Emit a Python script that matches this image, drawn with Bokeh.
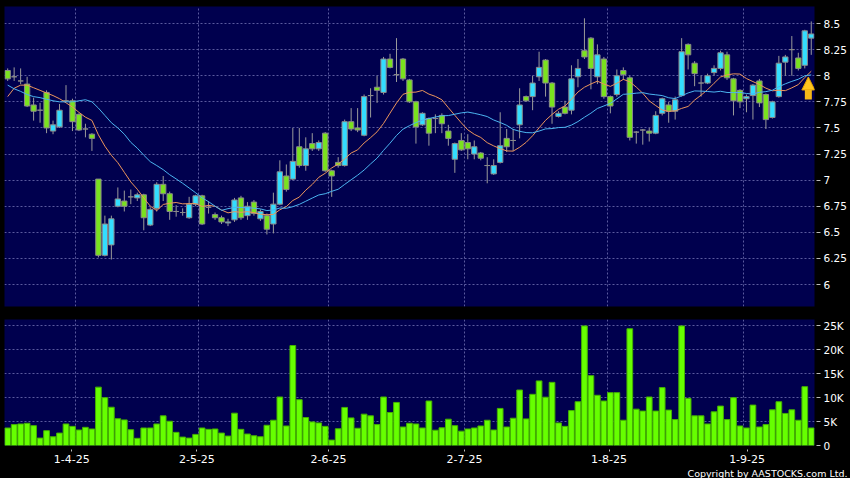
from bokeh.plotting import figure
from bokeh.layouts import column
from bokeh.models import (ColumnDataSource, FixedTicker, Range1d, Arrow, NormalHead,
                          Title, GlobalInlineStyleSheet)
from bokeh.embed import file_html
from bokeh.resources import INLINE

# ---------------- data ----------------
opens = [8.05, 7.99, 7.95, 7.92, 7.72, 7.67, 7.84, 7.47, 7.51, 7.76,
         7.76, 7.63, 7.49, 7.44, 7.01, 6.28, 6.38, 6.75, 6.80, 6.84,
         6.83, 6.86, 6.57, 6.73, 6.96, 6.87, 6.70, 6.69, 6.64, 6.77,
         6.85, 6.74, 6.67, 6.64, 6.59, 6.62, 6.83, 6.66, 6.79, 6.63,
         6.66, 6.58, 6.77, 7.04, 7.01, 7.32, 7.14, 7.35, 7.30, 7.45,
         7.09, 7.17, 7.14, 7.56, 7.50, 7.43, 7.81, 7.89, 7.84, 8.16,
         8.01, 8.16, 7.96, 7.75, 7.53, 7.59, 7.59, 7.62, 7.47, 7.20,
         7.38, 7.36, 7.25, 7.26, 7.14, 7.06, 7.17, 7.40, 7.38, 7.53,
         7.80, 7.80, 7.99, 8.15, 7.93, 7.61, 7.70, 7.67, 7.99, 8.24,
         8.36, 7.99, 8.16, 7.80, 7.82, 8.05, 7.98, 7.46, 7.48, 7.47,
         7.45, 7.64, 7.72, 7.66, 7.81, 8.30, 8.12, 7.93, 7.93, 8.03,
         8.07, 8.20, 7.97, 7.86, 7.78, 7.81, 7.95, 7.82, 7.60, 7.80,
         8.13, 8.25, 8.17, 8.10, 8.36]
highs = [8.07, 8.08, 8.07, 7.99, 7.79, 7.74, 7.86, 7.57, 7.73, 7.91,
         7.78, 7.64, 7.54, 7.45, 7.01, 6.66, 6.66, 6.93, 6.90, 6.91,
         6.88, 6.87, 6.74, 6.98, 7.04, 6.89, 6.76, 6.73, 6.84, 6.86,
         6.86, 6.80, 6.69, 6.66, 6.63, 6.83, 6.85, 6.79, 6.81, 6.72,
         6.68, 6.88, 7.19, 7.15, 7.50, 7.50, 7.41, 7.45, 7.38, 7.46,
         7.10, 7.22, 7.58, 7.69, 7.69, 7.82, 7.88, 8.00, 8.18, 8.21,
         8.36, 8.17, 7.97, 7.76, 7.65, 7.60, 7.63, 7.64, 7.53, 7.36,
         7.45, 7.44, 7.38, 7.27, 7.22, 7.20, 7.65, 7.49, 7.49, 7.88,
         7.81, 8.00, 8.23, 8.16, 7.94, 7.66, 7.76, 8.10, 8.16, 8.55,
         8.37, 8.30, 8.18, 7.81, 8.06, 8.08, 8.00, 7.47, 7.49, 7.50,
         7.66, 7.79, 7.75, 7.80, 8.36, 8.31, 8.14, 8.00, 8.02, 8.10,
         8.24, 8.23, 7.98, 7.87, 7.82, 7.92, 7.97, 7.83, 7.76, 8.19,
         8.20, 8.38, 8.22, 8.44, 8.52]
lows = [7.95, 7.95, 7.92, 7.70, 7.57, 7.55, 7.45, 7.44, 7.50, 7.75,
        7.47, 7.47, 7.41, 7.28, 6.26, 6.27, 6.24, 6.74, 6.70, 6.77,
        6.80, 6.52, 6.56, 6.70, 6.80, 6.62, 6.65, 6.66, 6.63, 6.75,
        6.57, 6.68, 6.62, 6.58, 6.56, 6.60, 6.62, 6.62, 6.66, 6.61,
        6.48, 6.49, 6.76, 6.89, 7.00, 7.12, 7.09, 7.28, 7.28, 7.08,
        6.84, 7.12, 7.13, 7.47, 7.46, 7.42, 7.60, 7.74, 7.82, 8.07,
        7.94, 7.95, 7.74, 7.35, 7.52, 7.33, 7.45, 7.45, 7.33, 7.07,
        7.28, 7.20, 7.20, 7.19, 6.97, 7.05, 7.16, 7.27, 7.28, 7.40,
        7.75, 7.67, 7.95, 7.80, 7.54, 7.60, 7.63, 7.63, 7.89, 8.16,
        7.87, 7.92, 7.78, 7.64, 7.80, 7.96, 7.38, 7.35, 7.34, 7.37,
        7.44, 7.62, 7.55, 7.58, 7.80, 8.06, 7.90, 7.80, 7.92, 8.00,
        8.05, 7.96, 7.62, 7.69, 7.65, 7.58, 7.70, 7.49, 7.59, 7.79,
        8.00, 8.00, 8.05, 8.07, 8.20]
closes = [7.97, 7.99, 7.95, 7.71, 7.66, 7.67, 7.50, 7.53, 7.67, 7.76,
          7.56, 7.48, 7.49, 7.40, 6.28, 6.58, 6.63, 6.82, 6.75, 6.84,
          6.86, 6.64, 6.72, 6.96, 6.87, 6.70, 6.70, 6.69, 6.77, 6.85,
          6.58, 6.74, 6.64, 6.60, 6.60, 6.81, 6.64, 6.75, 6.68, 6.70,
          6.53, 6.77, 7.08, 6.91, 7.18, 7.14, 7.30, 7.30, 7.36, 7.09,
          7.04, 7.14, 7.56, 7.49, 7.48, 7.80, 7.81, 7.86, 8.16, 8.08,
          8.01, 7.97, 7.75, 7.51, 7.64, 7.45, 7.59, 7.54, 7.40, 7.35,
          7.29, 7.30, 7.32, 7.21, 7.14, 7.14, 7.33, 7.32, 7.38, 7.72,
          7.76, 7.93, 8.08, 7.93, 7.70, 7.64, 7.64, 7.97, 8.07, 8.18,
          8.07, 8.20, 7.80, 7.71, 8.00, 8.01, 7.41, 7.46, 7.48, 7.45,
          7.62, 7.78, 7.66, 7.77, 8.23, 8.20, 8.02, 7.93, 8.00, 8.07,
          8.22, 7.98, 7.76, 7.75, 7.80, 7.91, 7.74, 7.58, 7.75, 8.12,
          8.18, 8.25, 8.07, 8.43, 8.40]
volumes_k = [3.66, 4.37, 4.5, 4.65, 4.15, 1.55, 3.1, 1.83, 2.6, 4.5,
             4.0, 3.24, 3.8, 3.45, 12.2, 10.0, 8.0, 5.6, 5.35, 3.3,
             1.5, 3.66, 3.66, 4.5, 6.2, 5.07, 2.75, 1.76, 1.55, 2.32,
             3.66, 3.38, 3.45, 2.6, 1.97, 6.76, 3.38, 2.4, 2.04, 1.83,
             4.23, 5.28, 10.14, 4.08, 20.9, 9.58, 5.85, 4.93, 4.72, 4.0,
             1.13, 3.5, 7.96, 5.77, 3.6, 6.55, 6.2, 4.37, 10.14, 6.9,
             9.0, 3.87, 4.65, 4.5, 3.66, 9.3, 3.2, 3.7, 5.5, 4.15,
             3.0, 3.45, 3.66, 4.08, 5.28, 3.24, 7.75, 3.87, 5.7, 11.6,
             5.56, 10.7, 13.5, 10.1, 13.2, 4.72, 4.0, 7.3, 9.15, 25.0,
             14.6, 10.5, 9.3, 11.05, 11.05, 5.28, 24.4, 7.6, 7.2, 10.14,
             7.2, 12.1, 7.4, 5.42, 25.0, 9.86, 6.2, 6.2, 4.5, 7.04,
             8.24, 5.42, 10.0, 4.08, 3.66, 8.45, 3.87, 4.37, 7.46, 9.15,
             6.7, 7.46, 5.28, 12.3, 3.66]
# moving-average values before enough candles are on screen
ma10_head = [7.80, 7.88, 7.91, 7.91, 7.885, 7.86, 7.835, 7.81, 7.78]
ma20_head = [7.91, 7.875, 7.85, 7.82, 7.80, 7.79, 7.775, 7.76, 7.75, 7.75,
             7.75, 7.76, 7.77, 7.75, 7.69, 7.62, 7.55, 7.50, 7.44]
month_start = [11, 30, 50, 71, 93, 114]          # first session of each month
date_label_pos = [9.9, 29.2, 49.5, 70.5, 92.8, 114.1]
date_labels = ["1-4-25", "2-5-25", "2-6-25", "2-7-25", "1-8-25", "1-9-25"]
price_ticks = [6.0, 6.25, 6.5, 6.75, 7.0, 7.25, 7.5, 7.75, 8.0, 8.25, 8.5]
price_labels = ["6", "6.25", "6.5", "6.75", "7", "7.25", "7.5", "7.75", "8", "8.25", "8.5"]
vol_ticks = [0, 5000, 10000, 15000, 20000, 25000]
vol_labels = ["0", "5K", "10K", "15K", "20K", "25K"]

# ---------------- styling ----------------
BG = "#000000"
PLOT_BG = "#00004E"
GRID = "#5A5A9E"
UP = "#33DDFF"
DOWN = "#7AE21E"
DOJI = "#9A9A9A"
EDGE = "#8A8A8A"
WICK = "#9A9A9A"
VOL = "#66FF00"
VOL_EDGE = "#44B000"
ORANGE = "#EC955C"
BLUE = "#4CB4F0"
FONT = "DejaVu Sans"

n = len(closes)
xs = list(range(n))
ma10 = [ma10_head[i] if i < 9 else sum(closes[i - 9:i + 1]) / 10 for i in range(n)]
ma20 = [ma20_head[i] if i < 19 else sum(closes[i - 19:i + 1]) / 20 for i in range(n)]
colors = [UP if c > o else (DOWN if c < o else DOJI) for o, c in zip(opens, closes)]
src = ColumnDataSource(dict(
    x=xs, h=highs, l=lows,
    top=[max(o, c) for o, c in zip(opens, closes)],
    bot=[min(o, c) for o, c in zip(opens, closes)],
    color=colors, vol=[v * 1000 for v in volumes_k]))

W = 850
XR = Range1d(-0.49, n - 0.5)
month_grid = [m - 0.5 for m in month_start]

def style(p):
    p.background_fill_color = PLOT_BG
    p.border_fill_color = BG
    p.outline_line_color = None
    for g in (p.xgrid, p.ygrid):
        g.grid_line_color = GRID
        g.grid_line_dash = "2 2"
        g.grid_line_width = 1
    for ax in p.axis:
        ax.axis_line_color = None
        ax.major_tick_line_color = "#BBBBBB"
        ax.minor_tick_line_color = None
        ax.major_label_text_color = "#FFFFFF"
        ax.major_label_text_font = FONT

# ---- price panel ----
p1 = figure(width=W, height=312, x_range=XR, y_range=Range1d(5.79, 8.663),
            output_backend="svg", toolbar_location=None, y_axis_location="right",
            min_border_left=4, min_border_right=36, min_border_top=6, min_border_bottom=6)
style(p1)
p1.xaxis.visible = False
p1.xgrid.ticker = FixedTicker(ticks=month_grid)
p1.yaxis.ticker = FixedTicker(ticks=price_ticks)
p1.ygrid.ticker = FixedTicker(ticks=price_ticks)
p1.yaxis.major_label_overrides = dict(zip(price_ticks, price_labels))
p1.yaxis.major_label_text_font_size = "10.5px"
p1.yaxis.major_tick_in = -2
p1.yaxis.major_tick_out = 6
p1.yaxis.major_label_standoff = 3

p1.segment("x", "h", "x", "l", source=src, line_color=WICK, line_width=1)
p1.vbar(x="x", width=0.82, top="top", bottom="bot", source=src,
        fill_color="color", line_color=EDGE, line_width=1)
p1.line(xs, ma10, line_color=ORANGE, line_width=1)
p1.line(xs, ma20, line_color=BLUE, line_width=1)

tip = ma20[-1] - 0.02
p1.add_layout(Arrow(end=NormalHead(size=13, fill_color="#FFC61E", line_color="#E0A000", line_width=1),
                    x_start=n - 1.45, y_start=tip - 0.215, x_end=n - 1.45, y_end=tip,
                    line_color="#F5B818", line_width=7))

# ---- volume panel ----
p2 = figure(width=W, height=166, x_range=XR, y_range=Range1d(0, 26340),
            output_backend="svg", toolbar_location=None, y_axis_location="right",
            min_border_left=4, min_border_right=36, min_border_top=7, min_border_bottom=0)
style(p2)
p2.vbar(x="x", width=0.88, top="vol", bottom=0, source=src,
        fill_color=VOL, line_color=VOL_EDGE, line_width=1)
p2.xaxis.ticker = FixedTicker(ticks=date_label_pos)
p2.xgrid.ticker = FixedTicker(ticks=month_grid)
p2.xaxis.major_label_overrides = dict(zip(date_label_pos, date_labels))
p2.xaxis.major_label_text_font_size = "11px"
p2.xaxis.major_tick_in = -4
p2.xaxis.major_tick_out = 6
p2.xaxis.major_label_standoff = 3
p2.yaxis.ticker = FixedTicker(ticks=vol_ticks)
p2.ygrid.ticker = FixedTicker(ticks=vol_ticks[1:])
p2.yaxis.major_label_overrides = dict(zip(vol_ticks, vol_labels))
p2.yaxis.major_label_text_font_size = "10.5px"
p2.yaxis.major_tick_in = -2
p2.yaxis.major_tick_out = 6
p2.yaxis.major_label_standoff = 3

p2.add_layout(Title(text="Copyright by AASTOCKS.com Ltd.", align="left", offset=683,
                    standoff=0, text_color="#FFFFFF", text_font=FONT,
                    text_font_size="9.5px", text_font_style="normal"), "below")

layout = column(p1, p2, spacing=0)
layout.stylesheets = [GlobalInlineStyleSheet(css="html, body { background: #000000; }")]

open("out.html", "w").write(file_html(layout, INLINE))
